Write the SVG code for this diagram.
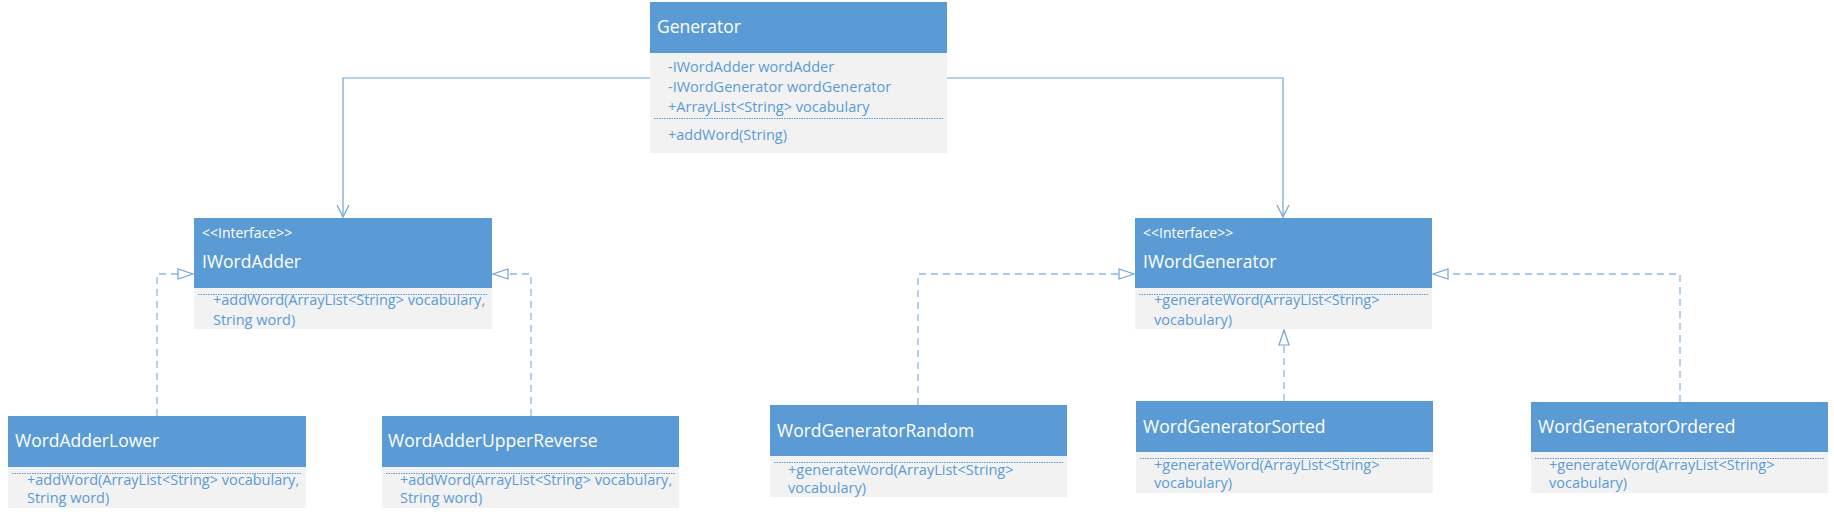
<svg xmlns="http://www.w3.org/2000/svg" width="1834" height="519" viewBox="0 0 1834 519">
<style>
.hd{fill:#5B9BD5}
.bd{fill:#F2F2F2}
.ti{font-family:"Open Sans","Noto Sans",sans-serif;font-size:17.5px;fill:#FFFFFF}
.st{font-family:"Open Sans","Noto Sans",sans-serif;font-size:14px;fill:#FFFFFF}
.tx{font-family:"Open Sans","Noto Sans",sans-serif;font-size:14.5px;fill:#5B9BD5}
.sep{stroke:#5B9BD5;stroke-width:1;stroke-dasharray:1.5 1;fill:none}
.assoc{stroke:#6FA4D8;stroke-width:1.2;fill:none}
.real{stroke:#8DB8E2;stroke-width:1.3;stroke-dasharray:7 5;fill:none}
</style>
<defs>
<marker id="open" markerWidth="14" markerHeight="16" refX="13" refY="8" orient="auto" markerUnits="userSpaceOnUse">
<path d="M1,2 L13,8 L1,14" fill="none" stroke="#6FA4D8" stroke-width="1.2"/>
</marker>
<marker id="tri" markerWidth="18" markerHeight="14" refX="16" refY="7" orient="auto" markerUnits="userSpaceOnUse">
<path d="M1,2 L16,7 L1,12 Z" fill="#FFFFFF" stroke="#6FA4D8" stroke-width="1.2"/>
</marker>
</defs>

<g id="connectors">
<path class="assoc" d="M650,78 H343 V217" marker-end="url(#open)"/>
<path class="assoc" d="M947,78 H1283 V217" marker-end="url(#open)"/>
<path class="real" d="M157,416 V274 H193" marker-end="url(#tri)"/>
<path class="real" d="M531,416 V274 H493" marker-end="url(#tri)"/>
<path class="real" d="M918,405 V274 H1134" marker-end="url(#tri)"/>
<path class="real" d="M1284,401 V330" marker-end="url(#tri)"/>
<path class="real" d="M1680,402 V274 H1433" marker-end="url(#tri)"/>
</g>

<g id="Generator">
<rect class="bd" x="650" y="53" width="297" height="100"/>
<rect class="hd" x="650" y="2" width="297" height="51"/>
<text class="ti" x="657" y="33">Generator</text>
<text class="tx" x="668" y="72">-IWordAdder wordAdder</text>
<text class="tx" x="668" y="92">-IWordGenerator wordGenerator</text>
<text class="tx" x="668" y="112">+ArrayList&lt;String&gt; vocabulary</text>
<line class="sep" x1="654" y1="118.5" x2="943" y2="118.5"/>
<text class="tx" x="668" y="140">+addWord(String)</text>
</g>

<g id="IWordAdder">
<rect class="bd" x="194" y="288" width="298" height="41"/>
<rect class="hd" x="194" y="218" width="298" height="70"/>
<text class="st" x="202" y="238">&lt;&lt;Interface&gt;&gt;</text>
<text class="ti" x="202" y="268">IWordAdder</text>
<line class="sep" x1="198" y1="294.5" x2="488" y2="294.5"/>
<text class="tx" x="213" y="305">+addWord(ArrayList&lt;String&gt; vocabulary,</text>
<text class="tx" x="213" y="325">String word)</text>
</g>

<g id="IWordGenerator">
<rect class="bd" x="1135" y="288" width="297" height="41"/>
<rect class="hd" x="1135" y="218" width="297" height="70"/>
<text class="st" x="1143" y="238">&lt;&lt;Interface&gt;&gt;</text>
<text class="ti" x="1143" y="268">IWordGenerator</text>
<line class="sep" x1="1139" y1="294.5" x2="1428" y2="294.5"/>
<text class="tx" x="1154" y="305">+generateWord(ArrayList&lt;String&gt;</text>
<text class="tx" x="1154" y="325">vocabulary)</text>
</g>

<g id="WordAdderLower">
<rect class="bd" x="8" y="467" width="298" height="41"/>
<rect class="hd" x="8" y="416" width="298" height="51"/>
<text class="ti" x="15" y="447">WordAdderLower</text>
<line class="sep" x1="12" y1="473.5" x2="302" y2="473.5"/>
<text class="tx" x="27" y="485">+addWord(ArrayList&lt;String&gt; vocabulary,</text>
<text class="tx" x="27" y="503">String word)</text>
</g>

<g id="WordAdderUpperReverse">
<rect class="bd" x="382" y="467" width="297" height="41"/>
<rect class="hd" x="382" y="416" width="297" height="51"/>
<text class="ti" x="388" y="447">WordAdderUpperReverse</text>
<line class="sep" x1="386" y1="473.5" x2="675" y2="473.5"/>
<text class="tx" x="400" y="485">+addWord(ArrayList&lt;String&gt; vocabulary,</text>
<text class="tx" x="400" y="503">String word)</text>
</g>

<g id="WordGeneratorRandom">
<rect class="bd" x="770" y="456" width="297" height="41"/>
<rect class="hd" x="770" y="405" width="297" height="51"/>
<text class="ti" x="777" y="437">WordGeneratorRandom</text>
<line class="sep" x1="774" y1="462.5" x2="1063" y2="462.5"/>
<text class="tx" x="788" y="475">+generateWord(ArrayList&lt;String&gt;</text>
<text class="tx" x="788" y="493">vocabulary)</text>
</g>

<g id="WordGeneratorSorted">
<rect class="bd" x="1136" y="452" width="297" height="41"/>
<rect class="hd" x="1136" y="401" width="297" height="51"/>
<text class="ti" x="1143" y="433">WordGeneratorSorted</text>
<line class="sep" x1="1140" y1="458.5" x2="1429" y2="458.5"/>
<text class="tx" x="1154" y="470">+generateWord(ArrayList&lt;String&gt;</text>
<text class="tx" x="1154" y="488">vocabulary)</text>
</g>

<g id="WordGeneratorOrdered">
<rect class="bd" x="1531" y="452" width="297" height="41"/>
<rect class="hd" x="1531" y="402" width="297" height="50"/>
<text class="ti" x="1538" y="433">WordGeneratorOrdered</text>
<line class="sep" x1="1535" y1="458.5" x2="1824" y2="458.5"/>
<text class="tx" x="1549" y="470">+generateWord(ArrayList&lt;String&gt;</text>
<text class="tx" x="1549" y="488">vocabulary)</text>
</g>
</svg>
